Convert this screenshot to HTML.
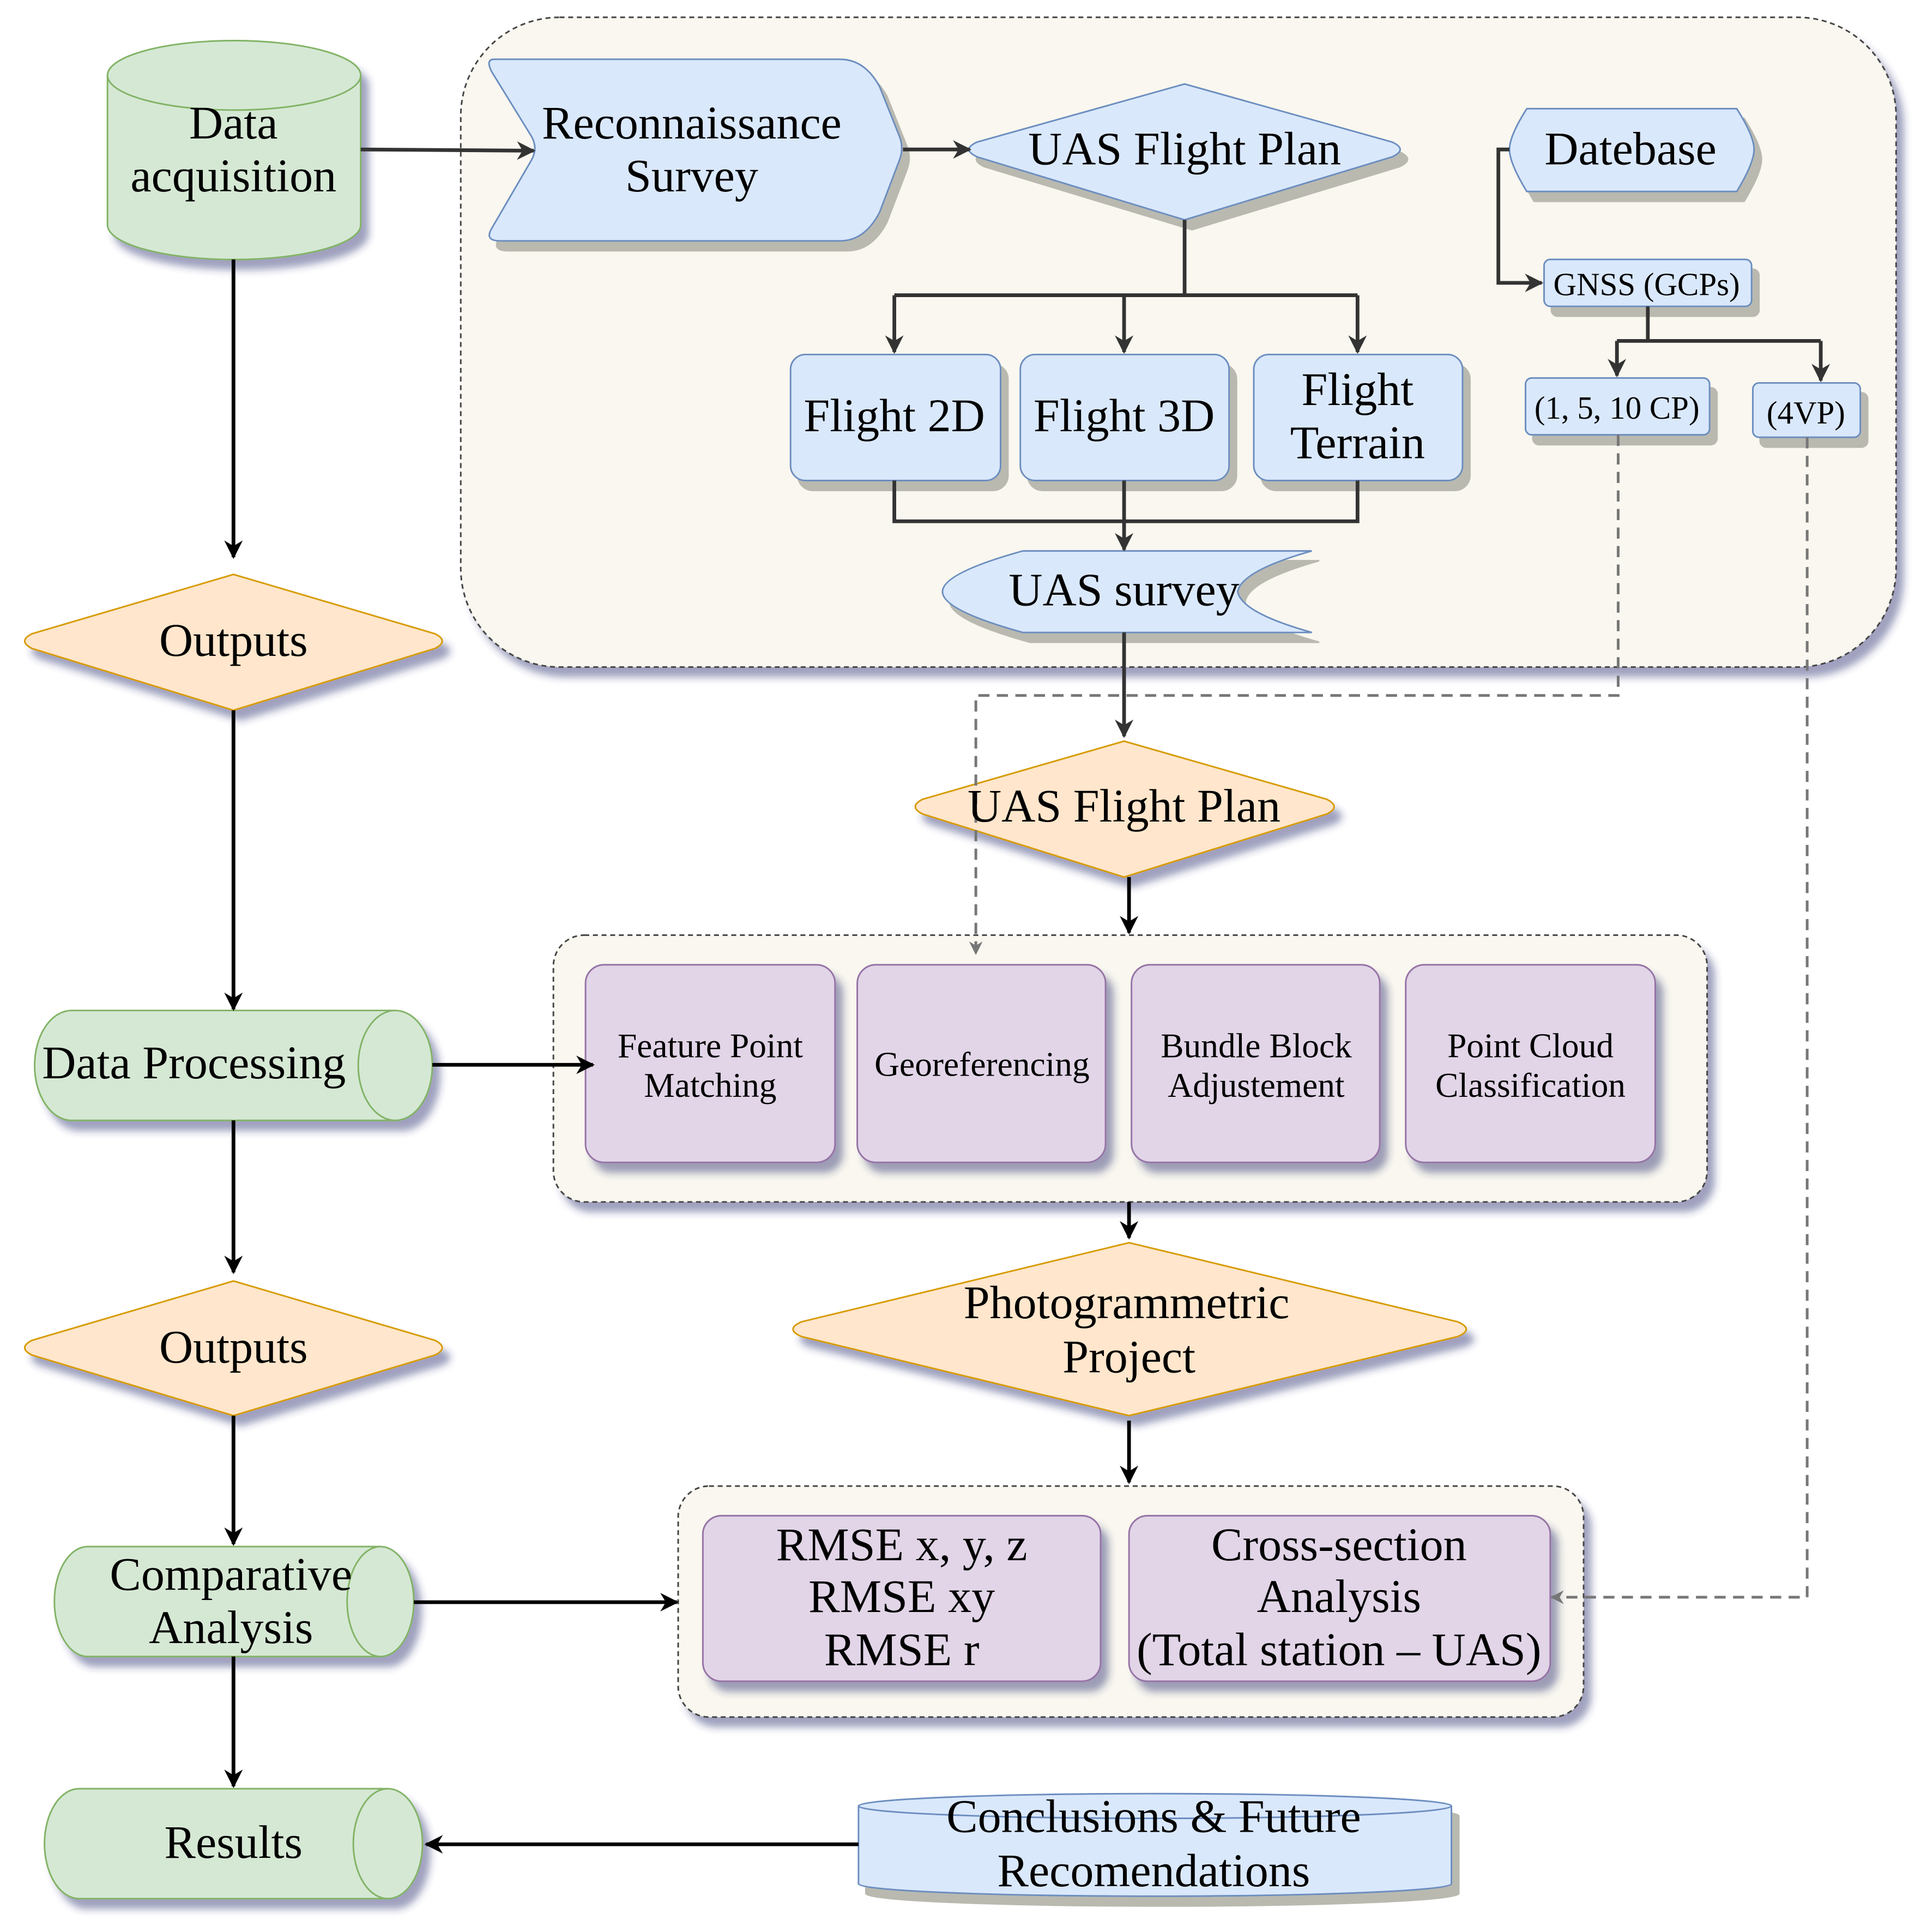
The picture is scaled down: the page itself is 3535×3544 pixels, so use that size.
<!DOCTYPE html>
<html><head><meta charset="utf-8"><style>html,body{margin:0;padding:0;background:#fff}svg{display:block}</style></head>
<body>
<svg width="3535" height="3544" viewBox="0 0 1560 1564" xmlns="http://www.w3.org/2000/svg" font-family="Liberation Serif, serif">
<defs>
<marker id="a" viewBox="0 0 10 10" refX="9" refY="5" markerWidth="5" markerHeight="5" orient="auto-start-reverse"><path d="M0,0 L10,5 L0,10 L3,5 Z" fill="#333"/></marker>
<marker id="b" viewBox="0 0 10 10" refX="9" refY="5" markerWidth="5" markerHeight="5" orient="auto"><path d="M0,0 L10,5 L0,10 L3,5 Z" fill="#000"/></marker>
<marker id="g" viewBox="0 0 10 10" refX="9" refY="5" markerWidth="5" markerHeight="5" orient="auto"><path d="M0,0 L10,5 L0,10 L3,5 Z" fill="#777"/></marker>
<filter id="s" x="-10%" y="-10%" width="130%" height="140%"><feGaussianBlur in="SourceAlpha" stdDeviation="3" result="bl"/><feOffset in="bl" dx="6" dy="8" result="of"/><feFlood flood-color="#2a3070" flood-opacity="0.45"/><feComposite operator="in" in2="of" result="sh"/><feMerge><feMergeNode in="sh"/><feMergeNode in="SourceGraphic"/></feMerge></filter>
<filter id="sb" x="-10%" y="-10%" width="130%" height="140%"><feOffset in="SourceAlpha" dx="6" dy="8" result="of"/><feFlood flood-color="#b9b9b0"/><feComposite operator="in" in2="of" result="sh"/><feMerge><feMergeNode in="sh"/><feMergeNode in="SourceGraphic"/></feMerge></filter>
</defs>
<g>
<rect x="373" y="14" width="1162" height="526" rx="80" fill="#f9f7ef" stroke="#444" stroke-dasharray="4 3" stroke-width="1.3" filter="url(#s)"/>
<rect x="448" y="757" width="934" height="216" rx="25" fill="#f9f7ef" stroke="#444" stroke-dasharray="4 3" stroke-width="1.3" filter="url(#s)"/>
<rect x="549" y="1203" width="733" height="187" rx="25" fill="#f9f7ef" stroke="#444" stroke-dasharray="4 3" stroke-width="1.3" filter="url(#s)"/>
</g>
<g stroke-width="1.3">
<path d="M87,61 A102,28 0 0 1 292,61 L292,182 A102,28 0 0 1 87,182 Z" fill="#d5e8d4" stroke="#82b366" filter="url(#s)"/>
<path d="M87,61 A102,28 0 0 0 292,61" fill="none" stroke="#82b366"/>
<path d="M400,48 L680,48 Q700,48 712,70 L728,110 Q732,120 728,130 L712,172 Q700,195 680,195 L405,195 Q392,195 398,185 L430,130 Q436,120 430,110 L398,58 Q393,48 400,48 Z" fill="#dae8fc" stroke="#6c8ebf" filter="url(#sb)"/>
<path d="M959,68 L1127,115 Q1140,121 1127,127 L959,178 L791,127 Q778,121 791,115 Z" fill="#dae8fc" stroke="#6c8ebf" filter="url(#sb)"/>
<path d="M1236,88 L1406,88 Q1420,110 1420,121 Q1420,132 1406,155 L1236,155 Q1222,132 1222,121 Q1222,110 1236,88 Z" fill="#dae8fc" stroke="#6c8ebf" filter="url(#sb)"/>
<rect x="1250" y="210" width="168" height="38" rx="5" fill="#dae8fc" stroke="#6c8ebf" filter="url(#sb)"/>
<rect x="1235" y="306" width="149" height="46" rx="5" fill="#dae8fc" stroke="#6c8ebf" filter="url(#sb)"/>
<rect x="1419" y="310" width="87" height="44" rx="5" fill="#dae8fc" stroke="#6c8ebf" filter="url(#sb)"/>
<rect x="640" y="287" width="170" height="102" rx="12" fill="#dae8fc" stroke="#6c8ebf" filter="url(#sb)"/>
<rect x="826" y="287" width="169" height="102" rx="12" fill="#dae8fc" stroke="#6c8ebf" filter="url(#sb)"/>
<rect x="1015" y="287" width="169" height="102" rx="12" fill="#dae8fc" stroke="#6c8ebf" filter="url(#sb)"/>
<path d="M828,446 L1062,446 Q1005,462 1002,479 Q1005,496 1062,512 L828,512 Q763,494 763,479 Q763,464 828,446 Z" fill="#dae8fc" stroke="#6c8ebf" filter="url(#sb)"/>
<path d="M189,465 L352,513 Q364,519 352,525 L189,575 L26,525 Q14,519 26,513 Z" fill="#ffe6cc" stroke="#d79b00" filter="url(#s)"/>
<path d="M189,1037 L352,1085 Q364,1091 352,1097 L189,1146 L26,1097 Q14,1091 26,1085 Z" fill="#ffe6cc" stroke="#d79b00" filter="url(#s)"/>
<path d="M910,600 L1074,647 Q1086,653 1074,659 L910,710 L747,659 Q735,653 747,647 Z" fill="#ffe6cc" stroke="#d79b00" filter="url(#s)"/>
<path d="M914,1006 L1180,1070 Q1194,1076 1180,1082 L914,1146 L649,1082 Q635,1076 649,1070 Z" fill="#ffe6cc" stroke="#d79b00" filter="url(#s)"/>
<rect x="474" y="781" width="202" height="160" rx="15" fill="#e1d5e7" stroke="#9673a6" filter="url(#s)"/>
<rect x="694" y="781" width="201" height="160" rx="15" fill="#e1d5e7" stroke="#9673a6" filter="url(#s)"/>
<rect x="916" y="781" width="201" height="160" rx="15" fill="#e1d5e7" stroke="#9673a6" filter="url(#s)"/>
<rect x="1138" y="781" width="202" height="160" rx="15" fill="#e1d5e7" stroke="#9673a6" filter="url(#s)"/>
<rect x="569" y="1227" width="322" height="134" rx="15" fill="#e1d5e7" stroke="#9673a6" filter="url(#s)"/>
<rect x="914" y="1227" width="341" height="134" rx="15" fill="#e1d5e7" stroke="#9673a6" filter="url(#s)"/>
<path d="M58,818 L320,818 A30,44.5 0 0 1 320,907 L58,907 A30,44.5 0 0 1 58,818 Z" fill="#d5e8d4" stroke="#82b366" filter="url(#s)"/>
<path d="M320,818 A30,44.5 0 0 0 320,907" fill="none" stroke="#82b366"/>
<path d="M71,1252 L308,1252 A27,44.5 0 0 1 308,1341 L71,1341 A27,44.5 0 0 1 71,1252 Z" fill="#d5e8d4" stroke="#82b366" filter="url(#s)"/>
<path d="M308,1252 A27,44.5 0 0 0 308,1341" fill="none" stroke="#82b366"/>
<path d="M64,1448 L314,1448 A28,44.5 0 0 1 314,1537 L64,1537 A28,44.5 0 0 1 64,1448 Z" fill="#d5e8d4" stroke="#82b366" filter="url(#s)"/>
<path d="M314,1448 A28,44.5 0 0 0 314,1537" fill="none" stroke="#82b366"/>
<path d="M695,1462 A240,10 0 0 1 1175,1462 L1175,1525 A240,10 0 0 1 695,1525 Z" fill="#dae8fc" stroke="#6c8ebf" filter="url(#sb)"/>
<path d="M695,1462 A240,10 0 0 0 1175,1462" fill="none" stroke="#6c8ebf"/>
</g>
<g fill="none" stroke="#333" stroke-width="3">
<path d="M292,121 L432,122" marker-end="url(#a)"/>
<path d="M731,121 L785,121" marker-end="url(#a)"/>
<path d="M959,178 L959,239 M724,239 L1099,239"/>
<path d="M724,239 L724,285" marker-end="url(#a)"/>
<path d="M910,239 L910,285" marker-end="url(#a)"/>
<path d="M1099,239 L1099,285" marker-end="url(#a)"/>
<path d="M724,389 L724,422 L1099,422 L1099,389"/>
<path d="M910,389 L910,445" marker-end="url(#a)"/>
<path d="M910,512 L910,596" marker-end="url(#a)"/>
<path d="M1222,121 L1213,121 L1213,229 L1248,229" marker-end="url(#a)"/>
<path d="M1334,248 L1334,276 M1309,276 L1474,276"/>
<path d="M1309,276 L1309,304" marker-end="url(#a)"/>
<path d="M1474,276 L1474,308" marker-end="url(#a)"/>
</g>
<g fill="none" stroke="#000" stroke-width="3">
<path d="M189,210 L189,451" marker-end="url(#b)"/>
<path d="M189,575 L189,817" marker-end="url(#b)"/>
<path d="M189,907 L189,1030" marker-end="url(#b)"/>
<path d="M189,1146 L189,1250" marker-end="url(#b)"/>
<path d="M189,1341 L189,1446" marker-end="url(#b)"/>
<path d="M350,862 L480,862" marker-end="url(#b)"/>
<path d="M335,1297 L548,1297" marker-end="url(#b)"/>
<path d="M695,1493 L345,1493" marker-end="url(#b)"/>
<path d="M914,710 L914,755" marker-end="url(#b)"/>
<path d="M914,973 L914,1002" marker-end="url(#b)"/>
<path d="M914,1150 L914,1200" marker-end="url(#b)"/>
</g>
<g fill="none" stroke="#777" stroke-width="2.2" stroke-dasharray="9 6">
<path d="M1310,352 L1310,563 L790,563 L790,772" marker-end="url(#g)"/>
<path d="M1463,354 L1463,1293 L1256,1293" marker-end="url(#g)"/>
</g>
<g fill="#000" text-anchor="middle" font-size="38">
<text x="189" y="112">Data</text><text x="189" y="155">acquisition</text>
<text x="560" y="112">Reconnaissance</text><text x="560" y="155">Survey</text>
<text x="959" y="133">UAS Flight Plan</text>
<text x="1320" y="133">Datebase</text>
<text x="724" y="349">Flight 2D</text>
<text x="910" y="349">Flight 3D</text>
<text x="1099" y="328">Flight</text><text x="1099" y="371">Terrain</text>
<text x="910" y="490">UAS survey</text>
<text x="189" y="531">Outputs</text>
<text x="910" y="665">UAS Flight Plan</text>
<text x="157" y="873">Data Processing</text>
<text x="189" y="1103">Outputs</text>
<text x="912" y="1067">Photogrammetric</text><text x="914" y="1111">Project</text>
<text x="187" y="1287">Comparative</text><text x="187" y="1330">Analysis</text>
<text x="189" y="1504">Results</text>
<text x="934" y="1483">Conclusions &amp; Future</text><text x="934" y="1527">Recomendations</text>
<text x="730" y="1263">RMSE x, y, z</text><text x="730" y="1305">RMSE xy</text><text x="730" y="1348">RMSE r</text>
<text x="1084" y="1263">Cross-section</text><text x="1084" y="1305">Analysis</text><text x="1084" y="1348">(Total station – UAS)</text>
</g>
<g fill="#000" text-anchor="middle" font-size="28">
<text x="575" y="856">Feature Point</text><text x="575" y="888">Matching</text>
<text x="795" y="871">Georeferencing</text>
<text x="1017" y="856">Bundle Block</text><text x="1017" y="888">Adjustement</text>
<text x="1239" y="856">Point Cloud</text><text x="1239" y="888">Classification</text>
</g>
<g fill="#000" text-anchor="middle" font-size="26">
<text x="1333" y="239">GNSS (GCPs)</text>
<text x="1309" y="339">(1, 5, 10 CP)</text>
<text x="1462" y="343">(4VP)</text>
</g>
</svg>
</body></html>
